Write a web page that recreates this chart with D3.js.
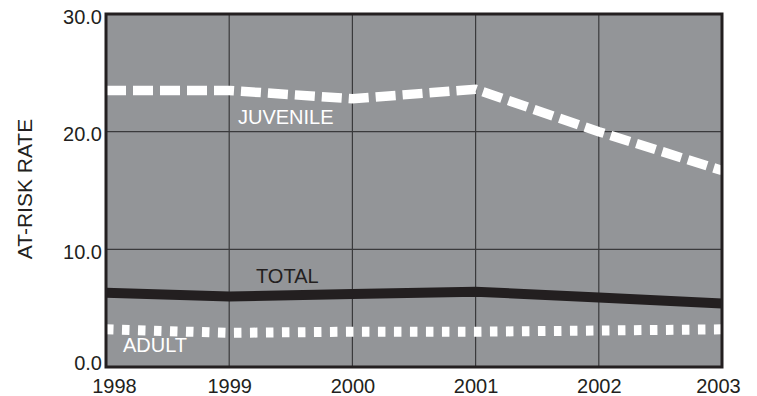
<!DOCTYPE html>
<html>
<head>
<meta charset="utf-8">
<script src="https://cdn.jsdelivr.net/npm/d3@7"></script>
<style>
  body { margin: 0; background: #fff; }
  text { font-family: "Liberation Sans", Arial, sans-serif; }
</style>
</head>
<body>
<svg id="chart" width="757" height="396"></svg>
<script>
// data
const years = [1998, 1999, 2000, 2001, 2002, 2003];
const juvenile = [23.5, 23.5, 22.8, 23.6, 20.0, 16.7];
const total = [6.3, 6.0, 6.2, 6.4, 5.9, 5.4];
const adult = [3.2, 2.9, 3.0, 3.0, 3.1, 3.2];
const yTicks = [0, 10, 20, 30];

const svg = d3.select('#chart');
const margin = {left: 106, right: 35, top: 14, bottom: 29};
const w = 757 - margin.left - margin.right;
const h = 396 - margin.top - margin.bottom;

const x = d3.scaleLinear().domain([1998, 2003]).range([0, w]);
const y = d3.scaleLinear().domain([0, 30]).range([h, 0]);

const g = svg.append('g').attr('transform', `translate(${margin.left},${margin.top})`);

// plot background
g.append('rect').attr('width', w).attr('height', h).attr('fill', '#939598');

// grid
g.selectAll('.vgrid').data(years.slice(1, -1)).enter().append('line')
  .attr('x1', d => x(d)).attr('x2', d => x(d))
  .attr('y1', 0).attr('y2', h)
  .attr('stroke', '#3a3a3c').attr('stroke-width', 1.2);
g.selectAll('.hgrid').data(yTicks.slice(1, -1)).enter().append('line')
  .attr('x1', 0).attr('x2', w)
  .attr('y1', d => y(d)).attr('y2', d => y(d))
  .attr('stroke', '#3a3a3c').attr('stroke-width', 1.2);

// series
const line = d3.line().x((d, i) => x(years[i])).y(d => y(d));

g.append('path').datum(total).attr('d', line)
  .attr('fill', 'none').attr('stroke', '#231f20').attr('stroke-width', 10);

g.append('path').datum(juvenile).attr('d', line)
  .attr('fill', 'none').attr('stroke', '#fff').attr('stroke-width', 9.5)
  .attr('stroke-dasharray', '20,7');

g.append('path').datum(adult).attr('d', line)
  .attr('fill', 'none').attr('stroke', '#fff').attr('stroke-width', 10)
  .attr('stroke-dasharray', '7.5,8.5');

// border
g.append('rect').attr('width', w).attr('height', h)
  .attr('fill', 'none').attr('stroke', '#231f20').attr('stroke-width', 3);

// axes
const yAxis = g.append('g').call(d3.axisLeft(y).tickValues(yTicks).tickSize(0).tickPadding(4).tickFormat(d3.format('.1f')));
const xAxis = g.append('g').attr('transform', `translate(0,${h})`)
  .call(d3.axisBottom(x).tickValues(years).tickSize(0).tickPadding(12).tickFormat(d3.format('d')));
[yAxis, xAxis].forEach(a => {
  a.select('.domain').remove();
  a.selectAll('text').attr('font-size', 20).attr('fill', '#231f20')
    .style('font-family', '"Liberation Sans", Arial, sans-serif');
});
// the 0.0 label sits a bit above the baseline, the others a touch below their lines
yAxis.selectAll('text').attr('dy', d => d === 0 ? '0.1em' : '0.45em');
// end labels nudged inward like the original
xAxis.selectAll('text').attr('dx', d => d === 1998 ? 8 : (d === 2003 ? -4 : 0));

// series labels
g.append('text').attr('x', 132).attr('y', 110).text('JUVENILE')
  .attr('fill', '#fff').attr('font-size', 20);
g.append('text').attr('x', 150).attr('y', 269).text('TOTAL')
  .attr('fill', '#231f20').attr('font-size', 20);
g.append('text').attr('x', 17).attr('y', 338).text('ADULT')
  .attr('fill', '#fff').attr('font-size', 20);

// y axis title
svg.append('text')
  .attr('transform', `translate(32,189) rotate(-90)`)
  .attr('text-anchor', 'middle')
  .attr('font-size', 21).attr('fill', '#231f20')
  .text('AT-RISK RATE');
</script>
</body>
</html>
